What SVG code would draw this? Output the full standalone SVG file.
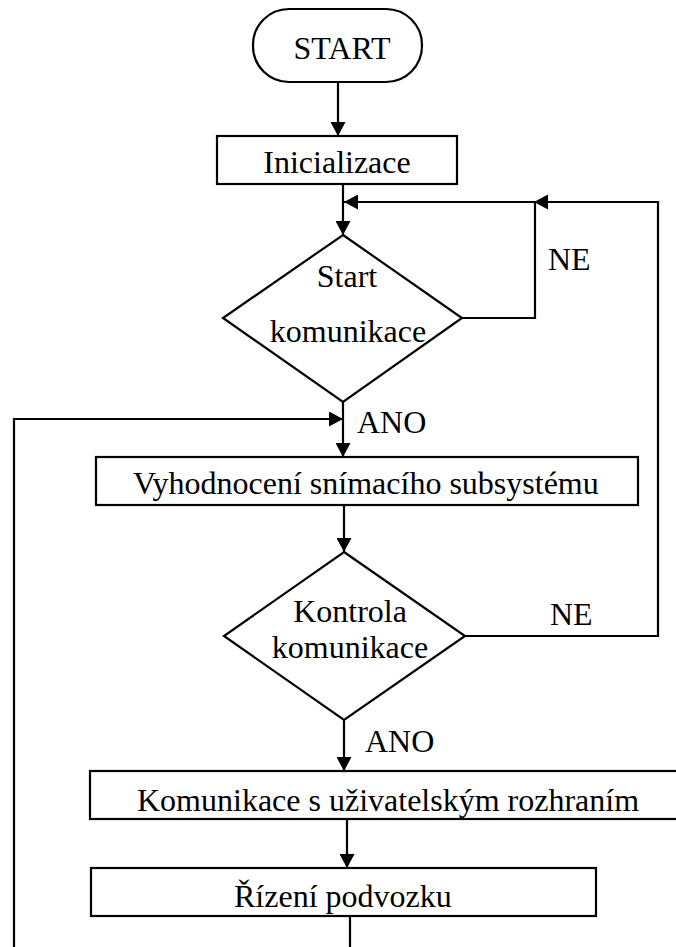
<svg xmlns="http://www.w3.org/2000/svg" width="676" height="947" viewBox="0 0 676 947">
  <defs>
    <marker id="arrow" viewBox="0 0 14 15" refX="14" refY="7.5" markerWidth="14" markerHeight="15" markerUnits="userSpaceOnUse" orient="auto">
      <path d="M0,0 L14,7.5 L0,15 Z" fill="#000"/>
    </marker>
    <style>
      .shape { fill: #fff; stroke: #000; stroke-width: 2.2; }
      .edge { fill: none; stroke: #000; stroke-width: 2.2; }
      .arrowed { marker-end: url(#arrow); }
      text { font-family: "Liberation Serif", "Times New Roman", serif; font-size: 32px; fill: #000; }
      .mid { text-anchor: middle; }
    </style>
  </defs>
  <rect width="676" height="947" fill="#fff"/>

  <!-- connectors -->
  <g id="connectors">
    <path class="edge arrowed" d="M338,82 V136"/>
    <path class="edge arrowed" d="M343,184 V235"/>
    <path class="edge arrowed" d="M465,636 H658 V202 H534"/>
    <path class="edge arrowed" d="M462,318 H535 V202 H344"/>
    <path class="edge arrowed" d="M343,402 V457"/>
    <path class="edge arrowed" d="M14,947 V419 H343"/>
    <path class="edge arrowed" d="M344,505 V552"/>
    <path class="edge arrowed" d="M344,720 V771"/>
    <path class="edge arrowed" d="M347,819 V868"/>
    <path class="edge" d="M350,916 V947"/>
    <text x="548" y="270">NE</text>
    <text x="357" y="433">ANO</text>
    <text x="550" y="625">NE</text>
    <text x="365" y="752">ANO</text>
  </g>

  <g id="start">
    <rect class="shape" x="253" y="9" width="169" height="73" rx="36" ry="36"/>
    <text class="mid" x="342" y="59">START</text>
  </g>

  <g id="init">
    <rect class="shape" x="217" y="136" width="240" height="48"/>
    <text class="mid" x="337" y="173">Inicializace</text>
  </g>

  <g id="start-comm">
    <polygon class="shape" points="343,235 462,318 343,402 223,318"/>
    <text class="mid" x="347" y="287">Start</text>
    <text class="mid" x="348" y="342">komunikace</text>
  </g>

  <g id="sensing">
    <rect class="shape" x="96" y="457" width="542" height="48"/>
    <text x="133" y="494">Vyhodnocení snímacího subsystému</text>
  </g>

  <g id="check-comm">
    <polygon class="shape" points="344,552 465,636 344,720 224,636"/>
    <text class="mid" x="350" y="622">Kontrola</text>
    <text class="mid" x="350" y="658">komunikace</text>
  </g>

  <g id="ui-comm">
    <rect class="shape" x="90" y="771" width="600" height="48"/>
    <text x="137" y="811">Komunikace s uživatelským rozhraním</text>
  </g>

  <g id="chassis">
    <rect class="shape" x="91" y="868" width="505" height="48"/>
    <text x="234" y="907">Řízení podvozku</text>
  </g>
</svg>
